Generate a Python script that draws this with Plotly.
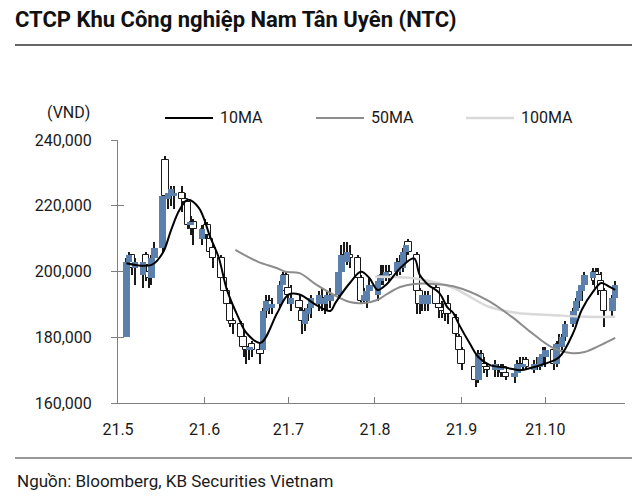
import numpy as np
import plotly.graph_objects as go

# ---------------- data (prices in thousand VND) ----------------
trade_days = {
    5: [4, 5, 6, 7, 10, 11, 12, 13, 14, 17, 18, 19, 20, 21, 24, 25, 26, 27, 28, 31],
    6: [1, 2, 3, 4, 7, 8, 9, 10, 11, 14, 15, 16, 17, 18, 21, 22, 23, 24, 25, 28, 29, 30],
    7: [1, 2, 5, 6, 7, 8, 9, 12, 13, 14, 15, 16, 19, 20, 21, 22, 23, 26, 27, 28, 29, 30],
    8: [2, 3, 4, 5, 6, 9, 10, 11, 12, 13, 16, 17, 18, 19, 20, 23, 24, 25, 26, 27, 30, 31],
    9: [1, 6, 7, 8, 9, 10, 13, 14, 15, 16, 17, 20, 21, 22, 23, 24, 27, 28, 29, 30],
    10: [1, 4, 5, 6, 7, 8, 11, 12, 13, 14, 15, 18, 19, 20, 21, 22, 25, 26],
}
dates = [f"2021-{m:02d}-{d:02d}" for m, ds in trade_days.items() for d in ds]

open_k = [
    180, 203, 205, 201, 199, 205, 200, 198, 204, 207, 234, 222, 223, 223, 224, 222, 221, 214, 215, 210,
    213, 214, 210, 207, 204, 198, 194, 190, 185, 184, 180, 177, 176, 178, 176, 176, 188, 191, 189, 190, 196, 199,
    195, 190, 191, 188, 184, 187, 189, 190, 192, 190, 191, 191, 193, 200, 205, 203, 205, 204, 198, 191, 191, 194,
    193, 197, 199, 198, 200, 200, 203, 201, 206, 209, 205, 194, 190, 191, 190, 195, 190, 189, 188, 190, 186, 180,
    176, 171, 167, 175, 172, 171, 170, 171, 170, 171, 169, 168, 169, 172, 171, 173, 170, 171, 171, 174,
    174, 176, 172, 178, 177, 180, 184, 188, 191, 194, 196, 198, 200, 199, 197, 194, 188, 192,
]
high_k = [
    204, 206, 205, 204, 204, 206, 202, 205, 209, 223, 235, 226, 226, 226, 226, 224, 221, 217, 216, 214,
    216, 215, 212, 208, 205, 200, 195, 191, 186, 185, 182, 179, 178, 179, 178, 189, 193, 193, 192, 197, 200, 200,
    197, 196, 193, 189, 189, 190, 193, 194, 195, 193, 194, 195, 201, 208, 209, 209, 208, 205, 199, 195, 195, 198,
    199, 202, 202, 202, 202, 204, 205, 207, 209, 210, 206, 195, 194, 194, 194, 196, 192, 191, 190, 193, 187, 181,
    177, 172, 176, 176, 174, 172, 173, 172, 172, 172, 171, 170, 173, 174, 174, 174, 173, 174, 175, 177,
    177, 177, 179, 181, 181, 185, 189, 192, 195, 197, 200, 201, 201, 201, 200, 195, 193, 197,
]
low_k = [
    180, 200, 199, 196, 195, 197, 195, 196, 198, 206, 218, 219, 220, 219, 218, 216, 213, 211, 208, 208,
    210, 209, 204, 201, 196, 193, 188, 183, 181, 178, 174, 172, 173, 174, 172, 175, 186, 187, 187, 189, 194, 193,
    190, 188, 187, 181, 182, 185, 186, 188, 188, 187, 188, 189, 192, 199, 201, 202, 201, 196, 190, 190, 189, 192,
    191, 196, 196, 197, 197, 198, 199, 200, 203, 205, 187, 187, 188, 188, 188, 189, 186, 186, 185, 184, 179, 175,
    170, 165, 166, 170, 169, 168, 168, 168, 168, 168, 167, 166, 168, 169, 170, 170, 169, 170, 170, 172,
    171, 170, 171, 176, 176, 179, 183, 187, 189, 191, 194, 196, 195, 193, 192, 183, 186, 191,
]
close_k = [
    203, 205, 201, 203, 203, 202, 198, 204, 207, 223, 223, 224, 225, 224, 222, 221, 214, 215, 213, 213,
    212, 211, 206, 204, 198, 194, 190, 185, 184, 180, 177, 176, 177, 176, 175, 188, 191, 189, 190, 196, 199, 194,
    193, 192, 189, 185, 188, 189, 192, 193, 190, 192, 193, 193, 200, 205, 203, 206, 204, 198, 191, 193, 194, 196,
    197, 199, 198, 200, 199, 203, 201, 206, 208, 206, 194, 190, 193, 192, 193, 190, 189, 188, 187, 187, 181, 176,
    172, 167, 175, 171, 171, 170, 172, 170, 171, 169, 168, 169, 172, 171, 172, 171, 172, 172, 174, 175,
    176, 172, 178, 177, 180, 184, 188, 191, 194, 196, 199, 200, 197, 195, 194, 188, 192, 196,
]

ma10_dates = ["2021-05-04", "2021-05-13", "2021-05-17", "2021-05-20", "2021-05-23", "2021-05-26",
              "2021-05-30", "2021-06-03", "2021-06-06", "2021-06-09", "2021-06-13", "2021-06-16",
              "2021-06-21", "2021-06-27", "2021-07-01", "2021-07-05", "2021-07-11", "2021-07-16",
              "2021-07-18", "2021-07-23", "2021-07-27", "2021-07-30", "2021-08-02", "2021-08-05",
              "2021-08-10", "2021-08-15", "2021-08-17", "2021-08-20", "2021-08-24", "2021-08-27",
              "2021-08-29", "2021-08-31", "2021-09-04", "2021-09-07", "2021-09-11", "2021-09-17",
              "2021-09-22", "2021-09-26", "2021-10-01", "2021-10-06", "2021-10-11", "2021-10-14",
              "2021-10-18", "2021-10-21", "2021-10-24", "2021-10-26"]
ma10_k = [202.5, 202.0, 205.6, 212.6, 218.7, 221.8,
          219.3, 210.5, 204.4, 194.4, 186.2, 181.3,
          178.3, 187.4, 193.0, 193.0, 189.8, 188.0,
          190.7, 196.5, 199.9, 198.0, 194.4, 196.0,
          201.0, 204.0, 199.0, 196.0, 193.5, 189.0,
          187.4, 184.0, 178.0, 174.0, 171.6, 170.7,
          170.0, 170.7, 172.0, 174.0, 181.4, 188.3,
          193.8, 196.5, 195.3, 194.4]

ma50_dates = ["2021-06-12", "2021-06-20", "2021-06-27", "2021-06-30", "2021-07-05", "2021-07-11",
              "2021-07-17", "2021-07-23", "2021-07-28", "2021-08-02", "2021-08-05", "2021-08-10",
              "2021-08-15", "2021-08-22", "2021-08-29", "2021-09-10", "2021-09-19", "2021-09-26",
              "2021-10-03", "2021-10-10", "2021-10-15", "2021-10-21", "2021-10-26"]
ma50_k = [206.6, 203.0, 201.0, 199.9, 199.5, 196.0,
          193.0, 190.7, 190.4, 191.4, 193.0, 195.3,
          196.2, 196.2, 195.5, 191.4, 186.2, 181.4,
          177.1, 175.2, 175.5, 177.7, 179.8]

ma100_dates = ["2021-08-01", "2021-08-16", "2021-08-29", "2021-09-04", "2021-09-11",
               "2021-09-21", "2021-10-03", "2021-10-15", "2021-10-26"]
ma100_k = [198.4, 197.8, 195.0, 192.3, 189.2, 187.4, 186.8, 186.2, 186.2]

month_ticks = ["2021-05-01", "2021-06-01", "2021-07-01", "2021-08-01", "2021-09-01", "2021-10-01"]
month_labels = ["21.5", "21.6", "21.7", "21.8", "21.9", "21.10"]
y_ticks = [160000, 180000, 200000, 220000, 240000]

# ---------------- styling ----------------
FONT = "Roboto"
BLUE = "#5B80AB"
INK = "#1a1a1a"
AXIS = "#7f7f7f"

# The page body has an 8px default margin, so the figure is 16px smaller
# and every reference position is offset by 8px.
OFF = 8
W, H = 640 - 2 * OFF, 501 - 2 * OFF
PLOT_L, PLOT_R, PLOT_T, PLOT_B = 118, 625, 140, 403   # reference pixel box
L, R, T, B = PLOT_L - OFF, W - (PLOT_R - OFF), PLOT_T - OFF, H - (PLOT_B - OFF)
PW, PH = PLOT_R - PLOT_L, PLOT_B - PLOT_T


def px(xp):
    return (xp - PLOT_L) / PW


def py(yp):
    return (PLOT_B - yp) / PH


o = np.array(open_k) * 1000.0
h = np.array(high_k) * 1000.0
lo = np.array(low_k) * 1000.0
c = np.array(close_k) * 1000.0
d = np.array(dates)
up = c >= o
dn = ~up

fig = go.Figure()
day_ms = 86400000
BODY_W = 2.3 * day_ms

# high-low lines (thin bars, so they sit beneath the bodies in the bar layer)
fig.add_trace(go.Bar(x=d, base=lo, y=h - lo, width=0.38 * day_ms,
                     marker=dict(color=INK, line=dict(width=0)),
                     hoverinfo="skip", showlegend=False, name="High-Low"))
fig.add_trace(go.Bar(x=d[dn], base=c[dn], y=np.maximum(o[dn] - c[dn], 400),
                     width=BODY_W, marker=dict(color="white", line=dict(color=INK, width=1)),
                     showlegend=False, name="Down"))
fig.add_trace(go.Bar(x=d[up], base=o[up], y=np.maximum(c[up] - o[up], 400),
                     width=BODY_W, marker=dict(color=BLUE, line=dict(width=0)),
                     showlegend=False, name="Up"))

fig.add_trace(go.Scatter(x=ma100_dates, y=np.array(ma100_k) * 1000, mode="lines", name="100MA",
                         line=dict(color="#d9d9d9", width=2.5, shape="spline"), showlegend=False))
fig.add_trace(go.Scatter(x=ma50_dates, y=np.array(ma50_k) * 1000, mode="lines", name="50MA",
                         line=dict(color="#8c8c8c", width=2, shape="spline"), showlegend=False))
fig.add_trace(go.Scatter(x=ma10_dates, y=np.array(ma10_k) * 1000, mode="lines", name="10MA",
                         line=dict(color="#000000", width=2, shape="spline"), showlegend=False))

# helper trace so the cross-tick overlay axis is drawn
fig.add_trace(go.Scatter(x=[dates[0]], y=[None], yaxis="y2", showlegend=False, hoverinfo="skip"))

fig.update_layout(
    width=W, height=H, autosize=False,
    margin=dict(l=L, r=R, t=T, b=B, autoexpand=False),
    paper_bgcolor="white", plot_bgcolor="white",
    barmode="overlay", bargap=0,
    font=dict(family=FONT, size=16, color=INK),
    showlegend=False,
    title=dict(text="<b>CTCP Khu Công nghiệp Nam Tân Uyên (NTC)</b>",
               font=dict(family=FONT, size=22, color="#111111"),
               xref="container", x=(15 - OFF) / W, xanchor="left",
               yref="container", y=1 - (19 - OFF) / H, yanchor="middle"),
    xaxis=dict(type="date", range=["2021-05-01", "2021-10-29 12:00"],
               tickvals=month_ticks, ticktext=month_labels,
               ticks="inside", ticklen=6, tickcolor=AXIS, tickwidth=1,
               showline=True, linecolor=AXIS, linewidth=1, showgrid=False, zeroline=False,
               ticklabelstandoff=12, tickfont=dict(size=16, color=INK)),
    yaxis=dict(range=[160000, 240000], tickvals=y_ticks, tickformat=",d",
               ticks="outside", ticklen=6, tickcolor=AXIS, tickwidth=1,
               showline=True, linecolor=AXIS, linewidth=1, showgrid=False, zeroline=False,
               ticklabelstandoff=16, tickfont=dict(size=16, color=INK)),
    yaxis2=dict(range=[160000, 240000], overlaying="y", side="left", tickvals=y_ticks,
                ticks="inside", ticklen=6, tickcolor=AXIS, tickwidth=1,
                showticklabels=False, showline=False, showgrid=False, zeroline=False),
)

# title rule and source rule
fig.add_shape(type="line", xref="paper", yref="paper", x0=px(15), x1=px(640), y0=py(45), y1=py(45),
              line=dict(color="#333333", width=1.5))
fig.add_shape(type="line", xref="paper", yref="paper", x0=px(15), x1=px(632), y0=py(458), y1=py(458),
              line=dict(color="#333333", width=1.2))

# unit label
fig.add_annotation(text="(VND)", xref="paper", yref="paper", x=px(68), y=py(112),
                   xanchor="center", yanchor="middle", showarrow=False, font=dict(size=16, color=INK))

# legend (manual)
legend_items = [("10MA", "#000000", 2, 165), ("50MA", "#8c8c8c", 2, 316), ("100MA", "#d9d9d9", 2.5, 466)]
for label, col, lw, x0 in legend_items:
    fig.add_shape(type="line", xref="paper", yref="paper", x0=px(x0), x1=px(x0 + 48),
                  y0=py(118), y1=py(118), line=dict(color=col, width=lw))
    fig.add_annotation(text=label, xref="paper", yref="paper", x=px(x0 + 53), y=py(118),
                       xanchor="left", yanchor="middle", showarrow=False,
                       font=dict(size=16, color=INK))

# source
fig.add_annotation(text="Nguồn: Bloomberg, KB Securities Vietnam", xref="paper", yref="paper",
                   x=px(15), y=py(481), xanchor="left", yanchor="middle", showarrow=False,
                   font=dict(size=17, color=INK))

fig.write_html("out.html")
